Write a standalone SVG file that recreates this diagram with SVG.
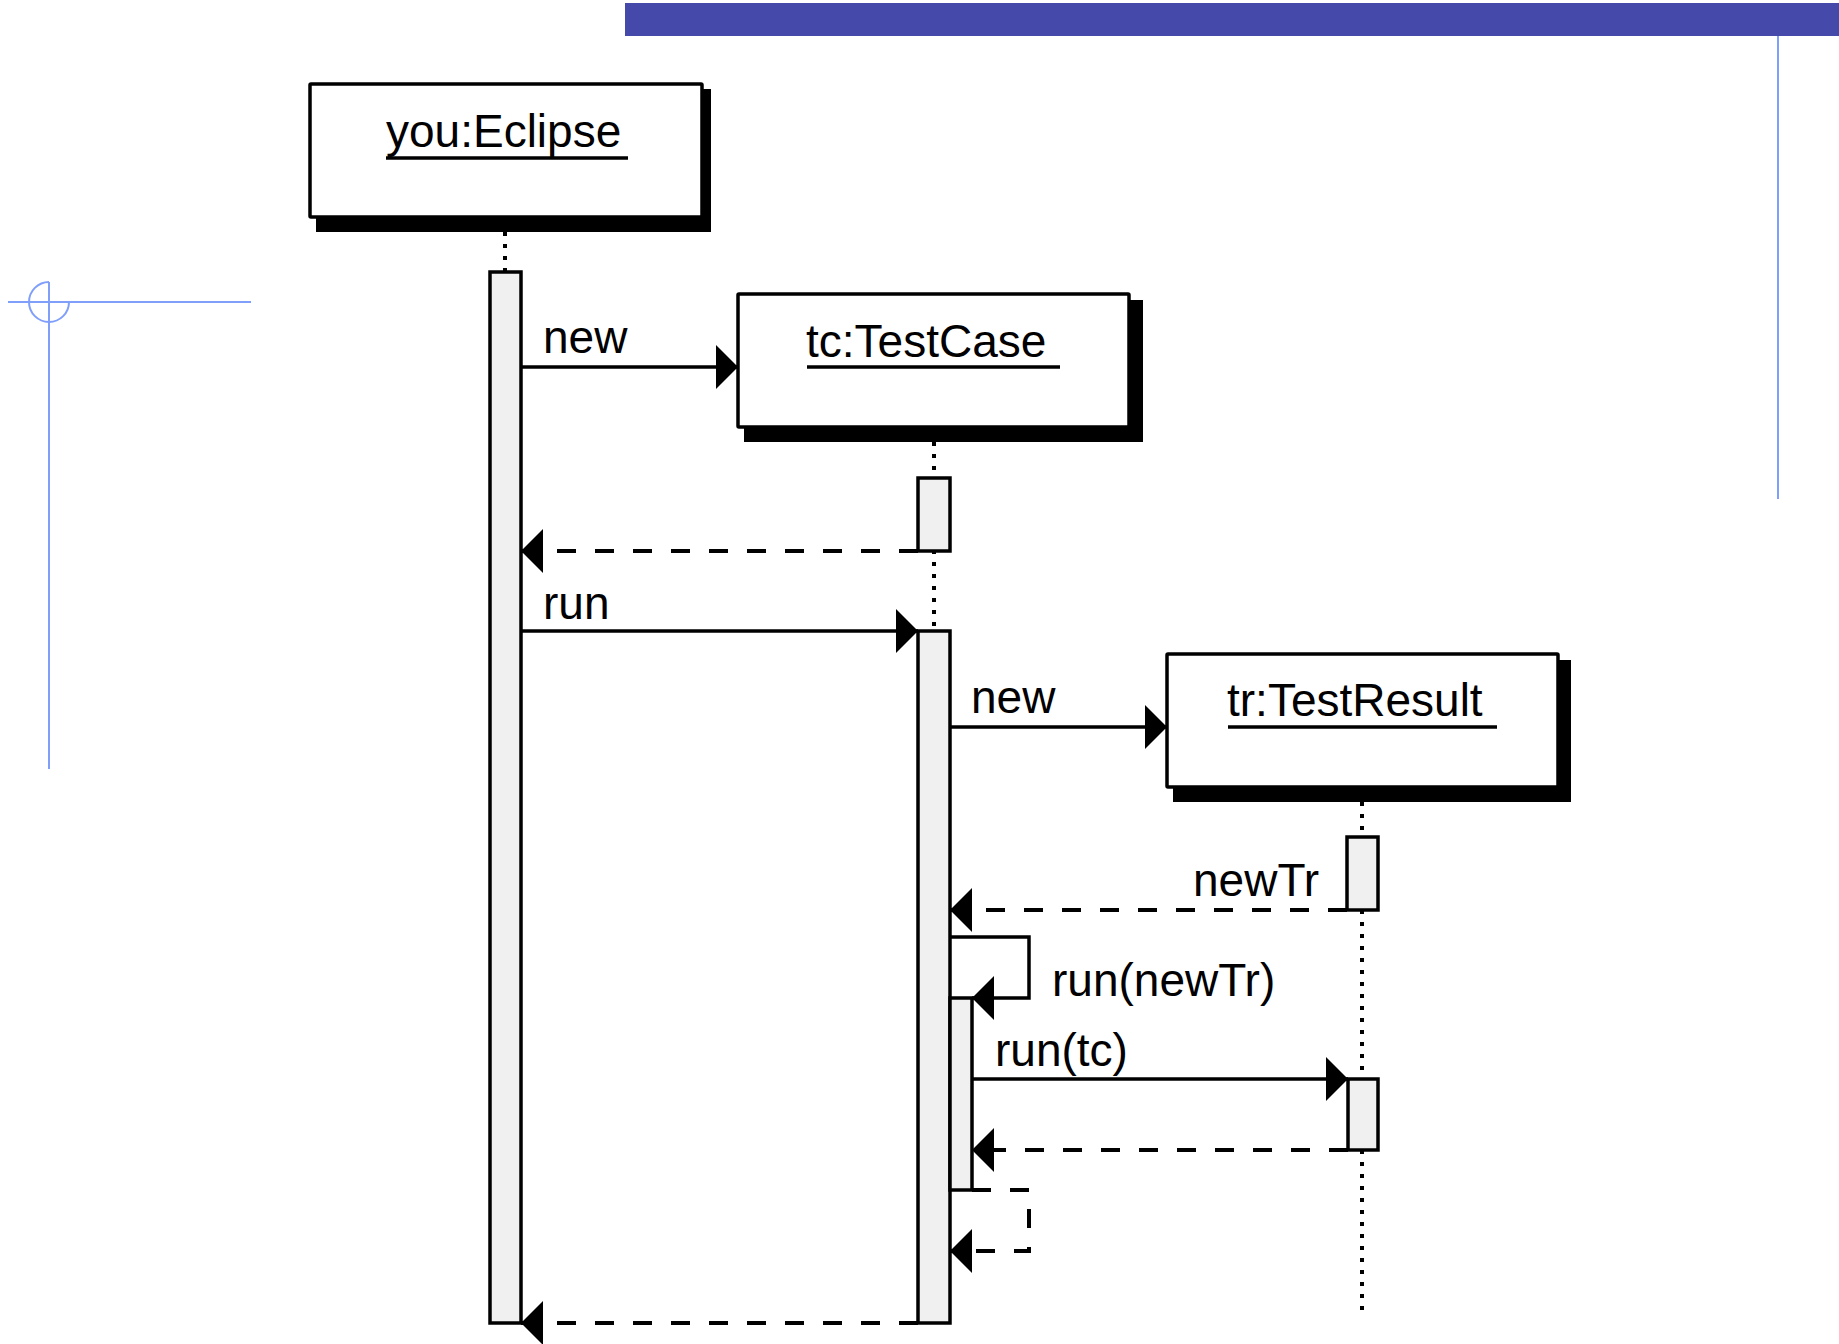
<svg xmlns="http://www.w3.org/2000/svg" width="1839" height="1344" viewBox="0 0 1839 1344">
<style>
.box{fill:#fff;stroke:#000;stroke-width:3.5}
.shadow{fill:#000;stroke:none}
.title{font-family:"Liberation Sans",Arial,sans-serif;font-size:46px;fill:#000}
.ul{stroke:#000;stroke-width:3.5}
.life{stroke:#000;stroke-width:4;stroke-dasharray:4 8;fill:none}
.act{fill:#f0f0f0;stroke:#000;stroke-width:3.5}
.msg{stroke:#000;stroke-width:3.5;fill:none;marker-end:url(#arr)}
.ret{stroke:#000;stroke-width:4;fill:none;stroke-dasharray:19 19;marker-end:url(#arr)}
.lbl{font-family:"Liberation Sans",Arial,sans-serif;font-size:46px;fill:#000}
.guide{stroke:#809ffa;stroke-width:2;fill:none}
</style>
<defs>
<marker id="arr" markerUnits="userSpaceOnUse" markerWidth="24" markerHeight="46" refX="22" refY="23" orient="auto" viewBox="0 0 24 46">
<path d="M0,1 L22,23 L0,45 z" fill="#000"/>
</marker>
</defs>
<g id="decor">
<rect x="625" y="3" width="1214" height="33" fill="#4449aa"/>
<line class="guide" x1="1778" y1="36" x2="1778" y2="499"/>
<line class="guide" x1="8" y1="302" x2="251" y2="302"/>
<line class="guide" x1="49" y1="282" x2="49" y2="769"/>
<path class="guide" d="M49,282 A20,20 0 1,0 69,302"/>
</g>
<g id="lifelines">
<line class="life" x1="505" y1="232" x2="505" y2="272"/>
<line class="life" x1="934" y1="442" x2="934" y2="631"/>
<line class="life" x1="1362" y1="802" x2="1362" y2="1315"/>
</g>
<g id="you">
<rect class="shadow" x="316" y="89" width="395" height="143"/>
<rect class="box" x="310" y="84" width="392" height="133" rx="1"/>
<text class="title" x="386" y="147">you:Eclipse </text>
<line class="ul" x1="386" y1="158" x2="628" y2="158"/>
</g>
<g id="tc">
<rect class="shadow" x="744" y="300" width="399" height="142"/>
<rect class="box" x="738" y="294" width="391" height="133" rx="1"/>
<text class="title" x="806" y="357">tc:TestCase </text>
<line class="ul" x1="807" y1="367" x2="1060" y2="367"/>
</g>
<g id="tr">
<rect class="shadow" x="1173" y="660" width="398" height="142"/>
<rect class="box" x="1167" y="654" width="391" height="133" rx="1"/>
<text class="title" x="1227" y="716">tr:TestResult </text>
<line class="ul" x1="1228" y1="727" x2="1497" y2="727"/>
</g>
<g id="activations">
<rect id="act-you" class="act" x="490" y="272" width="31" height="1051"/>
<rect id="act-tc1" class="act" x="918" y="478" width="32" height="73"/>
<rect id="act-tc2" class="act" x="918" y="631" width="32" height="692"/>
<rect id="act-tc3" class="act" x="950" y="998" width="22" height="192"/>
<rect id="act-tr1" class="act" x="1347" y="837" width="31" height="73"/>
<rect id="act-tr2" class="act" x="1348" y="1079" width="30" height="71"/>
</g>
<g id="connectors">
<path class="msg" d="M521,367 H738"/>
<path class="ret" d="M918,551 H521"/>
<path class="msg" d="M521,631 H918"/>
<path class="msg" d="M950,727 H1167"/>
<path class="ret" d="M1347,910 H950"/>
<path class="msg" d="M950,937 H1029 V998 H972"/>
<path class="msg" d="M972,1079 H1348"/>
<path class="ret" d="M1348,1150 H972"/>
<path class="ret" d="M972,1190 H1029 V1251 H950"/>
<path class="ret" d="M918,1323 H521"/>
</g>
<g id="labels">
<text class="lbl" x="543" y="353">new</text>
<text class="lbl" x="543" y="619">run</text>
<text class="lbl" x="971" y="713">new</text>
<text class="lbl" x="1193" y="896">newTr</text>
<text class="lbl" x="1052" y="996">run(newTr)</text>
<text class="lbl" x="995" y="1066">run(tc)</text>
</g>
</svg>
